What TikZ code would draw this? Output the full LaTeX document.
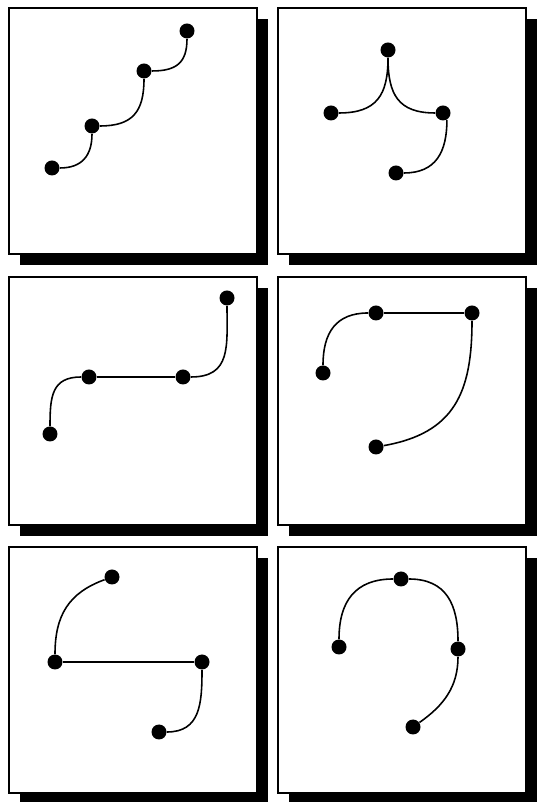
\documentclass[tikz,border=0pt]{standalone}
\usepackage{xcolor}
\usepackage{tikz}
\usetikzlibrary{positioning, calc}
\tikzset{
  panel/.style={draw=black, fill=white, line width=0.9pt},
  panelshadow/.style={fill=black},
  dot/.style={circle, fill=black, inner sep=0pt, minimum size=0.3cm},
  wire/.style={line width=0.9pt, color=black}
}

\begin{document}
\begin{tikzpicture}[x=0.02cm, y=0.02cm]
  \useasboundingbox (0,0) rectangle (539,803);

  % Panels with drop shadow
  \fill[panelshadow] (20,538) rectangle (268,784);
  \draw[panel] (9,549) rectangle (257,795);
  \fill[panelshadow] (289,538) rectangle (537,784);
  \draw[panel] (278,549) rectangle (526,795);
  \fill[panelshadow] (20,267) rectangle (268,515);
  \draw[panel] (9,278) rectangle (257,526);
  \fill[panelshadow] (289,267) rectangle (537,515);
  \draw[panel] (278,278) rectangle (526,526);
  \fill[panelshadow] (20,1) rectangle (268,245);
  \draw[panel] (9,10) rectangle (257,256);
  \fill[panelshadow] (289,1) rectangle (537,245);
  \draw[panel] (278,10) rectangle (526,256);

  % Nodes
  \node[dot] (p1a) at (52,635) {};
  \node[dot] (p1b) at (92,677) {};
  \node[dot] (p1c) at (144,732) {};
  \node[dot] (p1d) at (187,772) {};

  \node[dot] (p2top) at (388,753) {};
  \node[dot] (p2left) at (331,690) {};
  \node[dot] (p2right) at (443,690) {};
  \node[dot] (p2bot) at (396,630) {};

  \node[dot] (p3a) at (50,369) {};
  \node[dot] (p3b) at (89,426) {};
  \node[dot] (p3c) at (183,426) {};
  \node[dot] (p3d) at (227,505) {};

  \node[dot] (p4a) at (323,430) {};
  \node[dot] (p4b) at (376,490) {};
  \node[dot] (p4c) at (472,490) {};
  \node[dot] (p4d) at (376,356) {};

  \node[dot] (p5a) at (112,226) {};
  \node[dot] (p5b) at (55,141) {};
  \node[dot] (p5c) at (202,141) {};
  \node[dot] (p5d) at (159,71) {};

  \node[dot] (p6top) at (401,224) {};
  \node[dot] (p6left) at (339,156) {};
  \node[dot] (p6right) at (458,154) {};
  \node[dot] (p6bot) at (413,76) {};

  % Curves
  \draw[wire] (p1a) to[out=0, in=-90, looseness=1.2] (p1b);
  \draw[wire] (p1b) to[out=0, in=-90, looseness=1.3] (p1c);
  \draw[wire] (p1c) to[out=0, in=-90, looseness=1.3] (p1d);

  \draw[wire] (p2left) to[out=0, in=-90, looseness=1.3] (p2top);
  \draw[wire] (p2top) to[out=-90, in=180, looseness=1.3] (p2right);
  \draw[wire] (p2right.-60) to[out=-90, in=0, looseness=1.2] (p2bot);

  \draw[wire] (p3a) to[out=90, in=180, looseness=1.3] (p3b);
  \draw[wire] (p3b) -- (p3c);
  \draw[wire] (p3c) to[out=0, in=-90, looseness=1.3] (p3d);

  \draw[wire] (p4a) to[out=90, in=180, looseness=1.2] (p4b);
  \draw[wire] (p4b) -- (p4c);
  \draw[wire] (p4c) to[out=-90, in=10, looseness=1.2] (p4d);

  \draw[wire] (p5b) to[out=90, in=200, looseness=1.1] (p5a);
  \draw[wire] (p5b) -- (p5c);
  \draw[wire] (p5c) to[out=-90, in=0, looseness=1.2] (p5d);

  \draw[wire] (p6left) to[out=90, in=180, looseness=1.2] (p6top);
  \draw[wire] (p6top) to[out=0, in=90, looseness=1.2] (p6right);
  \draw[wire] (p6right) to[out=-90, in=35] (p6bot);
\end{tikzpicture}
\end{document}
